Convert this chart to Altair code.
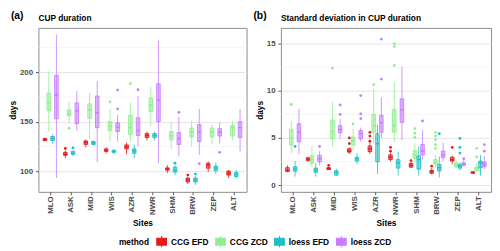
import altair as alt
import pandas as pd

sites = ["MLO", "ASK", "MID", "WIS", "AZR", "NWR", "SHM", "BRW", "ZEP", "ALT"]
methods = ["CCG EFD", "CCG ZCD", "loess EFD", "loess ZCD"]
colors = ["#E41A1C", "#90EE90", "#1FBFC4", "#C77CFF"]

# ---- panel (a): CUP duration, per site (lower whisker, q1, median, q3, upper whisker)
a_ccg_efd = [(130, 131, 132, 133, 134), (113, 116, 117, 119, 121), (124, 127, 129, 130.5, 132),
             (118, 120, 121, 122.5, 124), (117, 122.5, 124.5, 126.5, 129), (131, 134, 136, 138, 140),
             (98, 101, 102.3, 103.3, 106), (87, 89, 91, 93, 94), (99, 103, 106, 108, 110),
             (93, 96, 98, 100, 101)]
a_ccg_zcd = [(140, 161, 169, 179, 201), (149, 156, 158, 162, 170), (133, 153.5, 162, 168, 179),
             (130, 141, 145.5, 150, 163), (130, 137, 144, 156.5, 169), (146, 160.5, 167, 174, 185),
             (122, 131.5, 135.5, 140, 150), (125, 134.5, 139.5, 143.5, 151), (127, 134.5, 139.5, 143.5, 147),
             (131, 135.5, 144, 146, 151)]
a_loess_efd = [(128, 131, 133, 135, 137), (115, 117, 118, 120, 121), (126, 127, 128.5, 130, 131),
               (117, 119, 120, 121, 122), (113, 118, 120.5, 122.5, 127), (131, 134, 136, 138, 140),
               (96, 99, 101, 104, 106), (86, 89, 91, 93, 95), (97, 100.5, 103, 105, 109),
               (92, 94.5, 96.5, 98.5, 101)]
a_loess_zcd = [(93, 153, 177, 197, 238), (141, 148, 161, 169, 181), (109, 144, 159, 176, 191),
               (130, 140, 144.5, 149, 157), (125, 136, 141, 154, 176), (108, 150, 172, 188.5, 232),
               (115, 127, 133, 139, 155), (116.5, 130, 139.5, 147, 163), (128, 135.5, 139.5, 143, 149),
               (120, 134, 144, 150, 163)]
a_outliers = [("ASK", "CCG EFD", 123), ("BRW", "CCG EFD", 96),
              ("ASK", "CCG ZCD", 143.5), ("WIS", "CCG ZCD", 170), ("AZR", "CCG ZCD", 188.5),
              ("ASK", "loess EFD", 123.5), ("SHM", "loess EFD", 108), ("BRW", "loess EFD", 97),
              ("WIS", "loess ZCD", 163), ("WIS", "loess ZCD", 182), ("AZR", "loess ZCD", 182.5),
              ("SHM", "loess ZCD", 159.5), ("BRW", "loess ZCD", 107.5), ("ZEP", "loess ZCD", 119)]
a_ticks = [100, 150, 200]
a_minor = [125, 175, 225]
a_domain = [79, 245]

# ---- panel (b): standard deviation in CUP duration
b_ccg_efd = [(1.35, 1.45, 1.55, 1.85, 2.1), (2.5, 2.6, 2.75, 2.9, 3.0), (1.6, 1.65, 1.75, 1.85, 1.95),
             (3.3, 3.5, 3.6, 3.85, 4.0), (3.3, 3.55, 3.85, 4.15, 4.5), (2.5, 2.7, 2.95, 3.2, 3.4),
             (1.8, 1.9, 2.1, 2.3, 2.45), (1.15, 1.25, 1.45, 1.55, 1.8), (2.2, 2.55, 2.7, 2.95, 3.1),
             (1.2, 1.25, 1.35, 1.4, 1.45)]
b_ccg_zcd = [(3.4, 4.25, 5.0, 5.9, 6.8), (1.85, 2.3, 2.7, 3.1, 4.1), (4.1, 4.9, 5.7, 6.9, 8.8),
             (3.7, 4.25, 4.7, 5.1, 6.0), (4.4, 5.6, 6.3, 7.5, 10.2), (4.6, 5.6, 6.3, 8.0, 10.9),
             (2.35, 2.85, 3.2, 3.65, 4.4), (1.85, 2.2, 2.4, 2.7, 3.2), (1.8, 1.95, 2.2, 2.35, 2.7),
             (1.4, 1.5, 1.8, 1.9, 2.35)]
b_loess_efd = [(0.9, 1.47, 1.7, 1.95, 2.55), (0.9, 1.35, 1.6, 1.8, 2.35), (1.0, 1.05, 1.35, 1.5, 1.75),
               (2.2, 2.55, 2.8, 2.95, 3.4), (1.2, 2.47, 4.4, 5.45, 6.4), (1.0, 1.8, 2.35, 2.7, 3.55),
               (1.0, 1.7, 2.7, 3.1, 4.1), (0.8, 1.5, 1.85, 2.2, 3.05), (1.55, 1.8, 2.0, 2.2, 2.4),
               (1.0, 1.85, 2.35, 2.55, 3.2)]
b_loess_zcd = [(3.3, 4.6, 5.6, 6.5, 8.1), (2.1, 2.45, 2.8, 3.15, 3.6), (4.9, 5.55, 5.9, 6.3, 7.0),
               (4.6, 4.9, 5.45, 5.8, 6.1), (5.0, 5.6, 6.6, 7.4, 9.3), (4.75, 6.65, 8.0, 9.15, 12.6),
               (2.7, 3.2, 3.6, 4.3, 5.8), (2.55, 2.9, 3.2, 3.6, 4.5), (2.0, 2.1, 2.25, 2.35, 2.7),
               (1.7, 1.95, 2.2, 2.45, 3.1)]
b_outliers = [("MID", "CCG EFD", 2.1), ("WIS", "CCG EFD", 4.4), ("WIS", "CCG EFD", 5.0),
              ("AZR", "CCG EFD", 4.65), ("AZR", "CCG EFD", 5.2), ("AZR", "CCG EFD", 5.6),
              ("NWR", "CCG EFD", 3.6), ("NWR", "CCG EFD", 4.0), ("SHM", "CCG EFD", 2.6),
              ("BRW", "CCG EFD", 2.0), ("ZEP", "CCG EFD", 4.0),
              ("MLO", "CCG ZCD", 8.55), ("MID", "CCG ZCD", 12.4), ("WIS", "CCG ZCD", 6.5),
              ("AZR", "CCG ZCD", 10.65), ("NWR", "CCG ZCD", 12.7), ("NWR", "CCG ZCD", 14.7),
              ("NWR", "CCG ZCD", 15.0), ("SHM", "CCG ZCD", 5.05), ("SHM", "CCG ZCD", 5.5),
              ("SHM", "CCG ZCD", 6.0), ("BRW", "CCG ZCD", 3.9), ("BRW", "CCG ZCD", 4.3),
              ("BRW", "CCG ZCD", 4.8), ("BRW", "CCG ZCD", 5.2), ("BRW", "CCG ZCD", 5.6),
              ("ALT", "CCG ZCD", 3.0), ("ALT", "CCG ZCD", 3.9),
              ("MLO", "loess EFD", 4.1), ("BRW", "loess EFD", 5.45), ("ZEP", "loess EFD", 3.4),
              ("ZEP", "loess EFD", 4.0), ("ZEP", "loess EFD", 4.95),
              ("ASK", "loess ZCD", 4.1), ("MID", "loess ZCD", 7.5), ("MID", "loess ZCD", 8.5),
              ("WIS", "loess ZCD", 7.05), ("WIS", "loess ZCD", 7.55), ("WIS", "loess ZCD", 9.5),
              ("AZR", "loess ZCD", 11.25), ("AZR", "loess ZCD", 15.5), ("SHM", "loess ZCD", 6.8),
              ("ZEP", "loess ZCD", 2.8), ("ALT", "loess ZCD", 3.6), ("ALT", "loess ZCD", 4.3)]
b_ticks = [0, 5, 10, 15]
b_minor = [2.5, 7.5, 12.5]
b_domain = [-0.72, 16.68]

FONT = "Liberation Sans"
box_path = "M-0.85,-0.6H0.85V0.6H-0.85Z M-0.85,0H0.85 M0,-0.6V-1 M0,0.6V1"
legend = alt.Legend(
    title="method", orient="none", direction="horizontal", legendX=82, legendY=211,
    titleOrient="left", titleFontSize=8.5, titleFontWeight="bold", titleColor="black",
    titlePadding=6, labelFontSize=8.5, labelFontWeight="bold", labelColor="black",
    symbolType=box_path, symbolSize=135, symbolStrokeWidth=1.1, symbolFillColor="white",
    columnPadding=4, labelOffset=3,
)


def make_panel(stats, outliers, ticks, minor, domain, title, tag, width, height):
    rows = []
    for m, lst in zip(methods, stats):
        for s, (lo, q1, md, q3, hi) in zip(sites, lst):
            rows.append(dict(site=s, method=m, lo=lo, q1=q1, med=md, q3=q3, hi=hi))
    df = pd.DataFrame(rows)
    out = pd.DataFrame(outliers, columns=["site", "method", "value"])
    mdf = pd.DataFrame({"v": minor})

    xenc = alt.X("site:N", sort=sites, scale=alt.Scale(domain=sites, paddingInner=0.25, paddingOuter=0.225),
                 axis=alt.Axis(title="Sites", labelAngle=-90, bandPosition=0.5, labelFontSize=8,
                               labelFontWeight="bold", labelColor="#4d4d4d", titleFontSize=8.5,
                               titleFontWeight="bold", titleColor="black", titlePadding=4,
                               tickSize=3, tickColor="#333333", tickWidth=0.8, labelPadding=1,
                               domain=False, gridColor="#e6e6e6", gridWidth=1))
    xoff = alt.XOffset("method:N", sort=methods,
                       scale=alt.Scale(domain=methods, paddingInner=0.1, paddingOuter=0.05))
    ysc = alt.Scale(domain=domain, nice=False, zero=False)
    yax = alt.Axis(title="days", values=ticks, labelFontSize=8, labelFontWeight="bold",
                   labelColor="#4d4d4d", titleFontSize=8.5, titleFontWeight="bold",
                   titleColor="black", titlePadding=2, tickSize=3, tickColor="#333333",
                   tickWidth=0.8, labelPadding=3, domain=False, gridColor="#e6e6e6", gridWidth=1)
    color = alt.Color("method:N", scale=alt.Scale(domain=methods, range=colors), legend=legend)
    fill = alt.Fill("method:N", scale=alt.Scale(domain=methods, range=colors), legend=None)

    minor_l = alt.Chart(mdf).mark_rule(color="#eeeeee", strokeWidth=0.6).encode(
        y=alt.Y("v:Q", scale=ysc, axis=yax))
    whisk = alt.Chart(df).mark_rule(strokeWidth=0.8).encode(
        x=xenc, xOffset=xoff, y=alt.Y("lo:Q", scale=ysc, axis=yax), y2="hi:Q", color=color)
    box_fill = alt.Chart(df).mark_bar(fillOpacity=0.45, width=3.6, strokeWidth=0).encode(
        x=xenc, xOffset=xoff, y=alt.Y("q1:Q", scale=ysc, axis=yax), y2="q3:Q", fill=fill)
    box_line = alt.Chart(df).mark_bar(filled=False, width=3.6, strokeWidth=0.9).encode(
        x=xenc, xOffset=xoff, y=alt.Y("q1:Q", scale=ysc, axis=yax), y2="q3:Q", color=color)
    med = alt.Chart(df).mark_tick(thickness=1.5, size=3.6, opacity=1).encode(
        x=xenc, xOffset=xoff, y=alt.Y("med:Q", scale=ysc, axis=yax), fill=fill)
    pts = alt.Chart(out).mark_circle(size=8, opacity=1).encode(
        x=xenc, xOffset=xoff, y=alt.Y("value:Q", scale=ysc, axis=yax), fill=fill)
    tag_l = alt.Chart(pd.DataFrame({"t": [tag]})).mark_text(
        align="left", baseline="top", fontSize=10.5, fontWeight="bold", font=FONT, color="black"
    ).encode(x=alt.value(-28), y=alt.value(-17), text="t:N")
    title_l = alt.Chart(pd.DataFrame({"t": [title]})).mark_text(
        align="left", baseline="alphabetic", fontSize=8.5, fontWeight="bold", font=FONT, color="black"
    ).encode(x=alt.value(0), y=alt.value(-7), text="t:N")

    return alt.layer(minor_l, whisk, box_fill, box_line, med, pts, tag_l, title_l).properties(
        width=width, height=height)


pa = make_panel([a_ccg_efd, a_ccg_zcd, a_loess_efd, a_loess_zcd], a_outliers, a_ticks, a_minor,
                a_domain, "CUP duration", "(a)", 212, 167)
pb = make_panel([b_ccg_efd, b_ccg_zcd, b_loess_efd, b_loess_zcd], b_outliers, b_ticks, b_minor,
                b_domain, "Standard deviation in CUP duration", "(b)", 214, 167)

chart = alt.hconcat(pa, pb, spacing=5).resolve_scale(
    y="independent", color="shared", fill="shared"
).resolve_legend(color="shared").properties(
    padding=0).configure(font=FONT).configure_view(stroke="#8c8c8c", strokeWidth=1)

chart.save("out.html", embed_options={"renderer": "svg", "actions": False})
